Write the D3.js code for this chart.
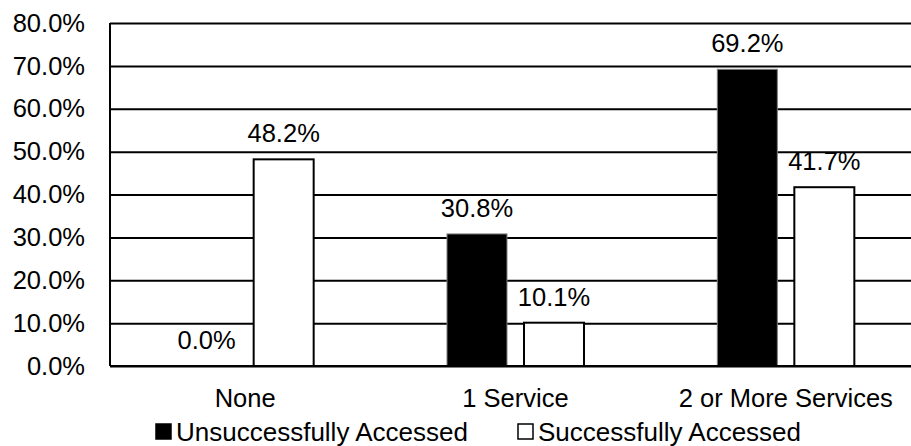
<!DOCTYPE html>
<html>
<head>
<meta charset="utf-8">
<script src="https://cdn.jsdelivr.net/npm/d3@7"></script>
<style>
  body { margin: 0; background: #fff; }
  text { font-family: "Liberation Sans", Arial, sans-serif; fill: #000; }
</style>
</head>
<body>
<script>
var categories = ["None", "1 Service", "2 or More Services"];
var seriesNames = ["Unsuccessfully Accessed", "Successfully Accessed"];
var unsuccessful = [0.0, 30.8, 69.2];
var successful = [48.2, 10.1, 41.7];
var yTicks = [0, 10, 20, 30, 40, 50, 60, 70, 80];

var w = 911, h = 446;
var margin = {top: 23, left: 110, bottom: 80};
var plotRight = 921; // plot area runs past the right edge of the picture
var fontSize = 25.5;
var legendFont = 26;

var svg = d3.select("body").append("svg")
  .attr("width", w)
  .attr("height", h);

var y = d3.scaleLinear()
  .domain([0, 80])
  .range([h - margin.bottom, margin.top]);

var x0 = d3.scaleBand()
  .domain(categories)
  .range([margin.left, plotRight]);

var groupWidth = 137;
var x1 = d3.scaleBand()
  .domain(seriesNames)
  .range([0, groupWidth])
  .paddingInner(0.2208);

// gridlines + tick labels
var yAxis = d3.axisLeft(y)
  .tickValues(yTicks)
  .tickSize(-(w - margin.left))
  .tickPadding(25)
  .tickFormat(function(d){ return d.toFixed(1) + "%"; });

var gy = svg.append("g")
  .attr("transform", "translate(" + margin.left + ",0)")
  .call(yAxis);
gy.select(".domain").remove();
gy.selectAll(".tick line")
  .attr("stroke", "#000")
  .attr("stroke-width", 2);
gy.selectAll(".tick text")
  .attr("font-size", fontSize)
  .attr("font-family", "Liberation Sans, Arial, sans-serif")
  .attr("fill", "#000");

// left axis line
svg.append("line")
  .attr("x1", margin.left).attr("x2", margin.left)
  .attr("y1", y(80)).attr("y2", y(0))
  .attr("stroke", "#000").attr("stroke-width", 2);

var rows = categories.map(function(c, i){
  return {cat: c, values: [
    {name: seriesNames[0], v: unsuccessful[i]},
    {name: seriesNames[1], v: successful[i]}
  ]};
});

var fills = {};
fills[seriesNames[0]] = "#000";
fills[seriesNames[1]] = "#fff";
var strokes = {};
strokes[seriesNames[0]] = "#7f7f7f";
strokes[seriesNames[1]] = "#000";

var groups = svg.selectAll(".group")
  .data(rows)
  .enter().append("g")
  .attr("class", "group")
  .attr("transform", function(d){
    return "translate(" + (x0(d.cat) + (x0.bandwidth() - groupWidth) / 2) + ",0)";
  });

groups.selectAll("rect")
  .data(function(d){ return d.values; })
  .enter().append("rect")
  .attr("x", function(d){ return x1(d.name); })
  .attr("width", x1.bandwidth())
  .attr("y", function(d){ return y(d.v); })
  .attr("height", function(d){ return y(0) - y(d.v); })
  .attr("fill", function(d){ return fills[d.name]; })
  .attr("stroke", function(d){ return d.v > 0 ? strokes[d.name] : "none"; })
  .attr("stroke-width", function(d){ return d.name === seriesNames[0] ? 1 : 2; });

groups.selectAll(".bar-label")
  .data(function(d){ return d.values; })
  .enter().append("text")
  .attr("class", "bar-label")
  .attr("x", function(d){ return x1(d.name) + x1.bandwidth() / 2; })
  .attr("y", function(d){ return y(d.v) - 17; })
  .attr("text-anchor", "middle")
  .attr("font-size", fontSize)
  .text(function(d){ return d.v.toFixed(1) + "%"; });

// bottom axis line
svg.append("line")
  .attr("x1", margin.left).attr("x2", w)
  .attr("y1", y(0)).attr("y2", y(0))
  .attr("stroke", "#000").attr("stroke-width", 2);

// category labels
svg.selectAll(".cat-label")
  .data(categories)
  .enter().append("text")
  .attr("class", "cat-label")
  .attr("x", function(d){ return x0(d) + x0.bandwidth() / 2; })
  .attr("y", 407)
  .attr("text-anchor", "middle")
  .attr("font-size", fontSize)
  .text(function(d){ return d; });

// legend
var legendX = [156, 518];
var legend = svg.selectAll(".legend")
  .data(seriesNames)
  .enter().append("g")
  .attr("class", "legend")
  .attr("transform", function(d, i){ return "translate(" + legendX[i] + ",424)"; });

legend.append("rect")
  .attr("width", 15).attr("height", 15)
  .attr("fill", function(d){ return fills[d]; })
  .attr("stroke", "#000")
  .attr("stroke-width", 1.5);

legend.append("text")
  .attr("x", 20)
  .attr("y", 17)
  .attr("font-size", legendFont)
  .text(function(d){ return d; });
</script>
</body>
</html>
